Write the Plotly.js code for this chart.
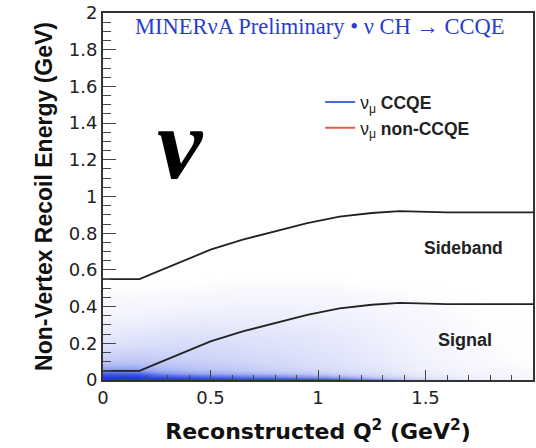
<!DOCTYPE html>
<html>
<head>
<meta charset="utf-8">
<script src="https://cdn.plot.ly/plotly-3.0.1.min.js"></script>
<style>html,body{margin:0;padding:0;background:#fff;}#chart{width:536px;height:448px;}</style>
</head>
<body>
<div id="chart"></div>
<script>
// Density of selected events (relative)
const xEdges = [0,0.1,0.2,0.3,0.4,0.5,0.6,0.7,0.8,0.9,1.0,1.1,1.2,1.3,1.4,1.5,1.6,1.7,1.8,1.9,2.0];
const yEdges = [0,0.012,0.025,0.045,0.07,0.1,0.15,0.2,0.27,0.35,0.43,0.52,0.62];
const density = [
  [10,10,10,10,9.5,9.5,9,9,8.5,8,7.5,6,4.5,3,2,1.2,0.8,0.5,0.4,0.3],
  [9,9,7.5,7,6.5,6,5.5,5,4.5,4,3.5,2.8,2,1.5,1,0.7,0.5,0.35,0.25,0.2],
  [7,7,5,4.2,3.8,3.5,3.2,2.9,2.6,2.3,2,1.6,1.3,1,0.7,0.5,0.35,0.25,0.2,0.15],
  [4,3.8,3,2.7,2.5,2.3,2.1,1.9,1.7,1.5,1.3,1.1,0.9,0.7,0.5,0.35,0.25,0.2,0.15,0.1],
  [2.6,2.6,2.3,2.1,2,1.9,1.7,1.5,1.4,1.2,1.1,0.9,0.75,0.6,0.45,0.3,0.2,0.12,0.08,0.06],
  [1.8,1.9,1.8,1.7,1.6,1.5,1.4,1.3,1.2,1.05,0.95,0.8,0.65,0.5,0.35,0.24,0.16,0.1,0.07,0.05],
  [1.2,1.3,1.4,1.4,1.35,1.3,1.2,1.1,1,0.9,0.8,0.7,0.55,0.42,0.3,0.2,0.13,0.09,0.06,0.04],
  [0.8,0.9,1,1.05,1.05,1,0.95,0.9,0.85,0.8,0.7,0.6,0.48,0.36,0.26,0.17,0.11,0.07,0.05,0.03],
  [0.4,0.45,0.55,0.6,0.65,0.65,0.65,0.62,0.6,0.55,0.5,0.43,0.35,0.27,0.2,0.13,0.09,0.06,0.04,0.03],
  [0.18,0.22,0.25,0.28,0.32,0.35,0.36,0.36,0.36,0.34,0.31,0.27,0.22,0.17,0.13,0.09,0.06,0.04,0.03,0.02],
  [0.06,0.07,0.08,0.09,0.11,0.12,0.13,0.14,0.14,0.14,0.13,0.11,0.09,0.07,0.05,0.04,0.03,0.02,0.01,0.01],
  [0,0,0,0,0,0,0,0,0,0,0,0,0,0,0,0,0,0,0,0]
];

// Signal-region cut (upper edge) and sideband cut (upper edge)
const cutQ2 = [0,0.17,0.25,0.35,0.5,0.65,0.8,0.95,1.1,1.25,1.38,1.5,1.6,2.0];
const signalCut = [0.05,0.05,0.089,0.137,0.21,0.265,0.31,0.355,0.39,0.41,0.42,0.418,0.413,0.413];
const sidebandCut = [0.55,0.55,0.589,0.637,0.71,0.765,0.81,0.855,0.89,0.91,0.92,0.918,0.913,0.913];

const legendNames = ['ν<sub>μ</sub> <b>CCQE</b>', 'ν<sub>μ</sub> <b>non-CCQE</b>'];
const legendColors = ['#4a68e0', '#e06048'];

const traces = [
  {
    type: 'heatmap', x: xEdges, y: yEdges, z: density,
    zmin: 0, zmax: 10, zsmooth: 'best', showscale: false, hoverinfo: 'skip', showlegend: false,
    colorscale: [
      [0, 'rgba(255,255,255,0)'], [0.01, 'rgb(248,248,254)'], [0.05, 'rgb(236,238,252)'],
      [0.1, 'rgb(222,226,250)'], [0.2, 'rgb(196,204,246)'], [0.35, 'rgb(150,165,240)'],
      [0.6, 'rgb(85,108,232)'], [0.85, 'rgb(45,70,225)'], [1, 'rgb(28,52,218)']
    ]
  },
  { type: 'scatter', mode: 'lines', x: cutQ2, y: signalCut, line: {color: '#222', width: 1.8}, showlegend: false, hoverinfo: 'skip' },
  { type: 'scatter', mode: 'lines', x: cutQ2, y: sidebandCut, line: {color: '#222', width: 1.8}, showlegend: false, hoverinfo: 'skip' },
  { type: 'scatter', mode: 'lines', x: [null], y: [null], name: legendNames[0], line: {color: legendColors[0], width: 2} },
  { type: 'scatter', mode: 'lines', x: [null], y: [null], name: legendNames[1], line: {color: legendColors[1], width: 2} }
];

const tickFont = {family: 'DejaVu Sans', size: 18, color: '#222'};
const layout = {
  width: 536, height: 448,
  margin: {l: 103, r: 3, t: 13, b: 68},
  paper_bgcolor: '#fff', plot_bgcolor: '#fff',
  showlegend: true,
  legend: {x: 0.505, y: 0.806, xanchor: 'left', yanchor: 'top', bgcolor: 'rgba(255,255,255,0)',
           font: {family: 'Liberation Sans', size: 17.5, color: '#222'}, tracegroupgap: 0},
  xaxis: {
    range: [0, 2], dtick: 0.5, tick0: 0, ticks: 'inside', ticklen: 10, tickcolor: '#444', tickwidth: 1,
    minor: {dtick: 0.1, ticks: 'inside', ticklen: 5, tickcolor: '#444'},
    showgrid: false, zeroline: false, showline: true, mirror: true, linecolor: '#333', linewidth: 2,
    tickfont: tickFont,
    title: {text: 'Reconstructed Q<sup>2</sup> (GeV<sup>2</sup>)', font: {family: 'DejaVu Sans', size: 22, color: '#111', weight: 'bold'}, standoff: 17}
  },
  yaxis: {
    range: [0, 2], dtick: 0.2, tick0: 0, ticks: 'inside', ticklen: 13, tickcolor: '#444', tickwidth: 1,
    minor: {dtick: 0.05, ticks: 'inside', ticklen: 8, tickcolor: '#444'},
    showgrid: false, zeroline: false, showline: true, mirror: true, linecolor: '#333', linewidth: 2,
    tickfont: tickFont,
    title: {text: 'Non-Vertex Recoil Energy (GeV)', font: {family: 'Liberation Sans', size: 23, color: '#111', weight: 'bold'}, standoff: 10}
  },
  annotations: [
    {xref: 'paper', yref: 'paper', x: 0.503, y: 0.962, xanchor: 'center', yanchor: 'middle', showarrow: false,
     text: 'MINERνA Preliminary • ν CH → CCQE', font: {family: 'Liberation Serif', size: 22.5, color: '#2a3ccc'}},
    {xref: 'x', yref: 'y', x: 0.362, y: 1.29, xanchor: 'center', yanchor: 'middle', showarrow: false,
     text: '<b><i>ν</i></b>', font: {family: 'Liberation Serif', size: 102, color: '#000'}},
    {xref: 'x', yref: 'y', x: 1.679, y: 0.721, xanchor: 'center', yanchor: 'middle', showarrow: false,
     text: '<b>Sideband</b>', font: {family: 'Liberation Sans', size: 17.5, color: '#222'}},
    {xref: 'x', yref: 'y', x: 1.684, y: 0.219, xanchor: 'center', yanchor: 'middle', showarrow: false,
     text: '<b>Signal</b>', font: {family: 'Liberation Sans', size: 18, color: '#222'}}
  ]
};

Plotly.newPlot('chart', traces, layout, {displayModeBar: false, staticPlot: true});
</script>
</body>
</html>
